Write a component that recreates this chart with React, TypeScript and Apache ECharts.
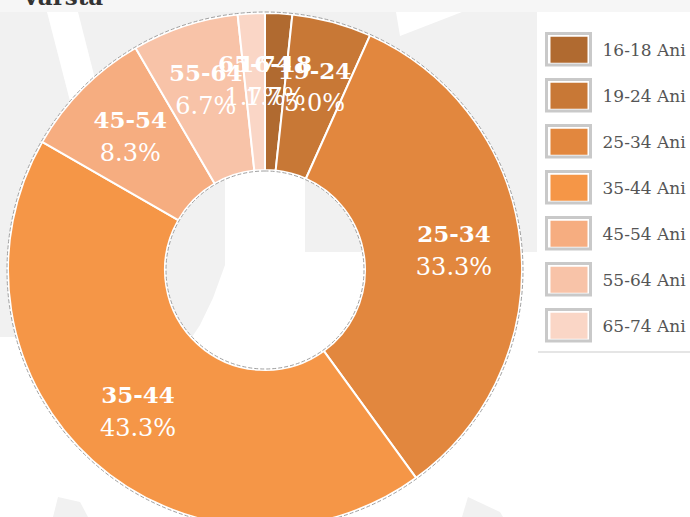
import React, { useEffect, useRef } from "react";
import * as echarts from "echarts";

const titleText = "Varsta";
const categories = ["16-18", "19-24", "25-34", "35-44", "45-54", "55-64", "65-74"];
const shares = [1.7, 5.0, 33.3, 43.3, 8.3, 6.7, 1.7];
const colors = ["#b06a30", "#c87836", "#e2873e", "#f59647", "#f6ad80", "#f8c3a8", "#fad6c6"];
const legendSuffix = "Ani";

const SERIF = "'DejaVu Serif', serif";
const BG_GRAY = "#f1f1f1";
const CENTER = [265, 270];
const INNER_R = 100;
const OUTER_R = 257;
const LABEL_R = 190;

export default function App() {
  const ref = useRef<HTMLDivElement>(null);

  useEffect(() => {
    const chart = echarts.init(ref.current as HTMLDivElement, null, { renderer: "svg" });
    const data = categories.map((c, i) => ({
      name: c,
      value: shares[i],
      itemStyle: { color: colors[i] },
    }));
    const total = shares.reduce((a, b) => a + b, 0);
    let acc = 0;
    const labelPoints = categories.map((c, i) => {
      const mid = acc + shares[i] / 2;
      acc += shares[i];
      return { name: c, value: [LABEL_R, mid], share: shares[i] };
    });

    const frames = categories.map((c, i) => ({
      type: "rect",
      silent: true,
      z: 3,
      shape: { x: 546.5, y: 33.5 + i * 46, width: 44, height: 31.5 },
      style: { fill: "#fff", stroke: "#c9c9c9", lineWidth: 3 },
    }));

    const option: any = {
      animation: false,
      backgroundColor: "#fff",
      polar: { center: CENTER, radius: OUTER_R },
      angleAxis: {
        type: "value",
        min: 0,
        max: total,
        startAngle: 90,
        clockwise: true,
        show: false,
        axisLine: { show: false },
        axisTick: { show: false },
        axisLabel: { show: false },
        splitLine: { show: false },
      },
      radiusAxis: {
        type: "value",
        min: 0,
        max: OUTER_R,
        show: false,
        axisLine: { show: false },
        axisTick: { show: false },
        axisLabel: { show: false },
        splitLine: { show: false },
      },
      graphic: [
        { type: "rect", silent: true, z: -10, shape: { x: 0, y: 12, width: 537, height: 325 }, style: { fill: BG_GRAY } },
        { type: "polygon", silent: true, z: -9, shape: { points: [[47, 12], [78, 12], [108, 130], [80, 140]] }, style: { fill: "#fff" } },
        {
          type: "polygon", silent: true, z: -9,
          shape: { points: [[225, 150], [305, 150], [305, 252], [537, 252], [537, 337], [192, 337], [200, 325], [213, 298], [225, 265]] },
          style: { fill: "#fff" },
        },
        { type: "polygon", silent: true, z: -9, shape: { points: [[396, 12], [462, 12], [400, 36]] }, style: { fill: "#fff" } },
        { type: "polygon", silent: true, z: -9, shape: { points: [[53, 517], [58, 497], [80, 502], [88, 517]] }, style: { fill: BG_GRAY } },
        { type: "polygon", silent: true, z: -9, shape: { points: [[462, 517], [468, 497], [500, 512], [503, 517]] }, style: { fill: BG_GRAY } },
        { type: "rect", silent: true, z: -8, shape: { x: 0, y: 0, width: 690, height: 12 }, style: { fill: "#f6f6f6" } },
        { type: "rect", silent: true, z: 1, shape: { x: 537, y: 12, width: 153, height: 340 }, style: { fill: "#fff" } },
        { type: "line", silent: true, z: 1, shape: { x1: 538, y1: 352, x2: 690, y2: 352 }, style: { stroke: "#dddddd", lineWidth: 1.5 } },
        ...frames,
        {
          type: "text",
          silent: true,
          z: 10,
          x: 22,
          y: -15,
          style: {
            text: titleText,
            fontFamily: SERIF,
            fontWeight: "bold",
            fontSize: 23,
            fill: "#333",
            verticalAlign: "top",
            textVerticalAlign: "top",
          },
        },
      ],
      legend: {
        orient: "vertical",
        left: 550.5,
        top: 36.7,
        padding: 0,
        itemWidth: 37,
        itemHeight: 26,
        itemGap: 20,
        icon: "rect",
        selectedMode: false,
        data: categories,
        formatter: (name: string) => `${name} ${legendSuffix}`,
        itemStyle: { borderWidth: 0 },
        textStyle: { fontFamily: SERIF, fontSize: 17, color: "#555", padding: [0, 0, 0, 10] },
        z: 4,
      },
      series: [
        {
          name: titleText,
          type: "pie",
          center: CENTER,
          radius: [INNER_R, OUTER_R],
          startAngle: 90,
          clockwise: true,
          silent: true,
          z: 2,
          label: { show: false },
          labelLine: { show: false },
          itemStyle: { borderColor: "#fff", borderWidth: 2 },
          data,
        },
        {
          name: "outline",
          type: "pie",
          center: CENTER,
          radius: [INNER_R - 1, OUTER_R + 1],
          silent: true,
          z: 3,
          label: { show: false },
          labelLine: { show: false },
          itemStyle: { color: "transparent", borderColor: "#a0a0a0", borderType: "dashed", borderWidth: 1 },
          data: [{ name: "__outline", value: 1 }],
        },
        {
          name: "labels",
          type: "scatter",
          coordinateSystem: "polar",
          symbolSize: 0,
          silent: true,
          z: 6,
          itemStyle: { opacity: 1 },
          label: {
            show: true,
            position: "inside",
            opacity: 1,
            color: "#fff",
            formatter: (p: any) => `{n|${p.name}}\n{v|${Number(p.data.share).toFixed(1)}%}`,
            rich: {
              n: { fontFamily: SERIF, fontWeight: "bold", fontSize: 23, color: "#ffffff", lineHeight: 33, align: "center" },
              v: { fontFamily: SERIF, fontSize: 24, color: "#ffffff", lineHeight: 33, align: "center" },
            },
          },
          data: labelPoints,
        },
      ],
    };

    chart.setOption(option);
    return () => chart.dispose();
  }, []);

  return <div ref={ref} style={{ position: "fixed", left: 0, top: 0, width: 690, height: 517 }} />;
}
